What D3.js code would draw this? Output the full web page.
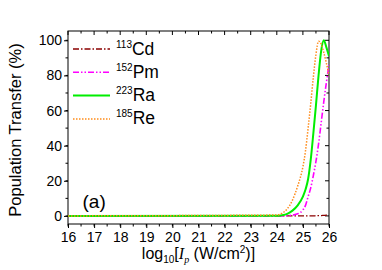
<!DOCTYPE html>
<html>
<head>
<script src="https://d3js.org/d3.v7.min.js"></script>
<style>
  body { margin: 0; background: #fff; }
  text { font-family: "Liberation Sans", Arial, sans-serif; fill: #000; }
</style>
</head>
<body>
<script>
// log10 of peak intensity, shared by all series
var xs = [16, 24.0, 24.2, 24.4, 24.6, 24.8, 25.0, 25.1, 25.2, 25.3, 25.4, 25.5, 25.6, 25.7, 25.8, 25.9, 26.0];
var cd = [0, 0, 0, 0, 0, 0, 0, 0, 0, 0, 0.05, 0.1, 0.15, 0.2, 0.3, 0.4, 0.6];
var pm = [0, 0, 0, 0.1, 0.5, 1.2, 3.4, 6, 11, 16, 23, 31, 41, 53, 65, 76, 86];
var ra = [0, 0.1, 0.4, 1.2, 3, 6, 11, 15, 21, 32, 47, 63, 80, 94, 100, 96, 91];
var re = [0, 0.5, 1.5, 4, 9, 17, 28, 37, 50, 64, 79, 92, 99.5, 98, 93, 87, 80];
var xTicks = [16, 17, 18, 19, 20, 21, 22, 23, 24, 25, 26];
var yTicks = [0, 20, 40, 60, 80, 100];

var series = [
  {iso: "113", el: "Cd", vals: cd, color: "#8b0000", dash: "6,2,1.5,2", w: 1.3},
  {iso: "152", el: "Pm", vals: pm, color: "#ff00ff", dash: "6,2,1.5,2,1.5,2", w: 1.6},
  {iso: "223", el: "Ra", vals: ra, color: "#00ee00", dash: null, w: 2},
  {iso: "185", el: "Re", vals: re, color: "#ff8c1a", dash: "1.5,1.5", w: 1.5}
];

var W = 382, H = 270;
var margin = {top: 31, right: 53, bottom: 46, left: 68};
var width = W - margin.left - margin.right,
    height = H - margin.top - margin.bottom;

var svg = d3.select("body").append("svg")
    .attr("width", W).attr("height", H);
var g = svg.append("g")
    .attr("transform", "translate(" + margin.left + "," + margin.top + ")");

var x = d3.scaleLinear().domain([16, 26]).range([0, width]);
var y = d3.scaleLinear().domain([-4.6, 105.3]).range([height, 0]);

var minorX = d3.range(16, 26.01, 0.5);
var minorY = d3.range(0, 100.1, 10);

// frame
g.append("rect").attr("width", width).attr("height", height)
  .attr("fill", "none").attr("stroke", "#000").attr("stroke-width", 1);

// bottom axis, ticks outward
var xAxis = d3.axisBottom(x).tickValues(xTicks).tickFormat(d3.format("d"))
  .tickSize(4).tickPadding(4);
var gx = g.append("g").attr("transform", "translate(0," + height + ")").call(xAxis);
gx.select(".domain").remove();
gx.selectAll("text").style("font-size", "14px").attr("font-family", null);
gx.selectAll(".minor").data(minorX).enter().append("line")
  .attr("x1", x).attr("x2", x).attr("y1", 0).attr("y2", 2.5).attr("stroke", "#000");

// left axis, ticks outward
var yAxis = d3.axisLeft(y).tickValues(yTicks).tickSize(4).tickPadding(2);
var gy = g.append("g").call(yAxis);
gy.select(".domain").remove();
gy.selectAll("text").style("font-size", "14px").attr("font-family", null);
gy.selectAll(".minor").data(minorY).enter().append("line")
  .attr("y1", y).attr("y2", y).attr("x1", 0).attr("x2", -2.5).attr("stroke", "#000");

// top and right, ticks inward
g.selectAll(".tt").data(minorX).enter().append("line")
  .attr("x1", x).attr("x2", x).attr("y1", 0)
  .attr("y2", function(d) { return d % 1 === 0 ? 4 : 2.5; }).attr("stroke", "#000");
g.selectAll(".rt").data(minorY).enter().append("line")
  .attr("y1", y).attr("y2", y).attr("x1", width)
  .attr("x2", function(d) { return d % 20 === 0 ? width - 4 : width - 2.5; }).attr("stroke", "#000");

// curves
var line = d3.line()
  .x(function(d, i) { return x(xs[i]); })
  .y(function(d) { return y(d); })
  .curve(d3.curveMonotoneX);

g.append("clipPath").attr("id", "clip").append("rect")
  .attr("width", width).attr("height", height);

series.forEach(function(s) {
  g.append("path").datum(s.vals)
    .attr("clip-path", "url(#clip)")
    .attr("d", line)
    .attr("fill", "none")
    .attr("stroke", s.color)
    .attr("stroke-width", s.w)
    .attr("stroke-dasharray", s.dash);
});

// legend
var leg = g.append("g").attr("transform", "translate(5,18)");
series.forEach(function(s, i) {
  var ly = i * 23.3;
  leg.append("line").attr("x1", 0).attr("x2", 37).attr("y1", ly).attr("y2", ly)
    .attr("stroke", s.color).attr("stroke-width", s.w).attr("stroke-dasharray", s.dash);
  var t = leg.append("text").attr("x", 43).attr("y", ly + 5.5).style("font-size", "17.5px");
  t.append("tspan").text(s.iso).style("font-size", "10px").attr("dy", "-7");
  t.append("tspan").text(s.el).attr("dy", "7");
});

// panel label
g.append("text").attr("x", 14.5).attr("y", 177).style("font-size", "19px").text("(a)");

// axis titles
var xl = svg.append("text").attr("x", margin.left + width / 2).attr("y", 259)
  .attr("text-anchor", "middle").style("font-size", "16px");
xl.append("tspan").text("log");
xl.append("tspan").text("10").style("font-size", "10px").attr("dy", "4");
xl.append("tspan").text("[").attr("dy", "-4");
xl.append("tspan").text("I").style("font-style", "italic").style("font-family", "Liberation Serif, serif");
xl.append("tspan").text("p").style("font-size", "10px").style("font-style", "italic")
  .style("font-family", "Liberation Serif, serif").attr("dy", "4");
xl.append("tspan").text(" (W/cm").attr("dy", "-4");
xl.append("tspan").text("2").style("font-size", "10px").attr("dy", "-6");
xl.append("tspan").text(")]").attr("dy", "6");

svg.append("text")
  .attr("transform", "translate(21,130)rotate(-90)")
  .attr("text-anchor", "middle").style("font-size", "16.5px")
  .text("Population Transfer (%)");
</script>
</body>
</html>
